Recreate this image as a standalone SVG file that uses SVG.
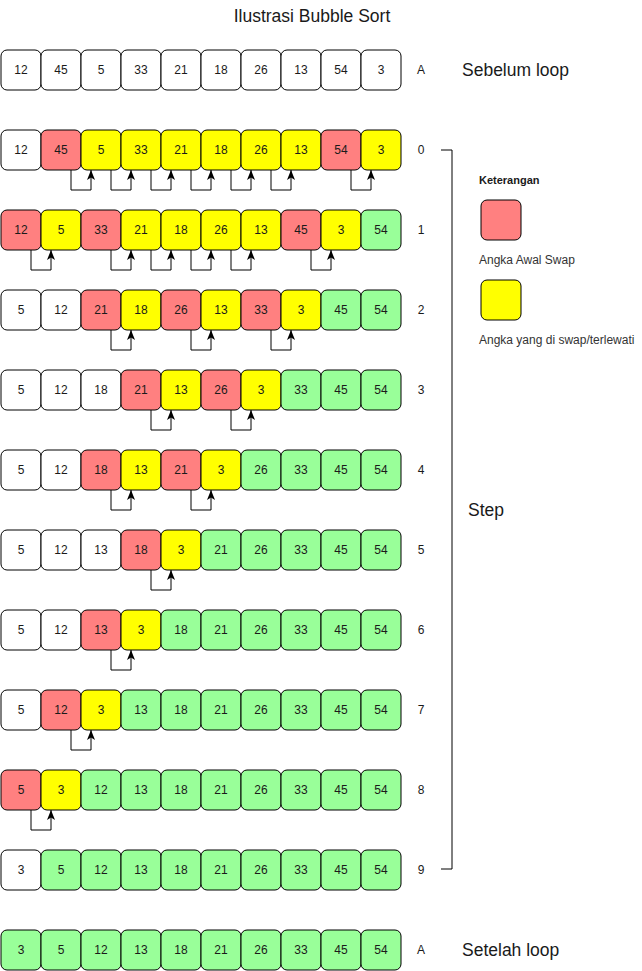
<svg xmlns="http://www.w3.org/2000/svg" width="642" height="971" viewBox="0 0 642 971">
<style>
text{font-family:"Liberation Sans",Arial,sans-serif;fill:#1a1a1a}
.b rect{stroke:#000;stroke-width:1}
.b text{font-size:12px;text-anchor:middle}
.w{fill:#fff}.r{fill:#ff8080}.y{fill:#ffff00}.g{fill:#99ff99}
.lbl{font-size:12px;text-anchor:middle}
.big{font-size:17.5px}
.lg{font-size:12px;fill:#333}
.ar{fill:none;stroke:#000;stroke-width:1;marker-end:url(#ah)}
</style>
<defs>
<marker id="ah" viewBox="0 0 10 8" refX="10" refY="4" markerWidth="10" markerHeight="8" markerUnits="userSpaceOnUse" orient="auto">
<path d="M0,0 L10,4 L0,8 L2.5,4 z" fill="#000"/>
</marker>
</defs>
<rect width="642" height="971" fill="#fff"/>
<text x="312" y="22" class="big" text-anchor="middle">Ilustrasi Bubble Sort</text>

<g id="rowA" class="b">
<g id="a0"><rect x="1" y="50" width="40" height="40" rx="6" class="w"/><text x="21" y="74">12</text></g>
<g id="a1"><rect x="41" y="50" width="40" height="40" rx="6" class="w"/><text x="61" y="74">45</text></g>
<g id="a2"><rect x="81" y="50" width="40" height="40" rx="6" class="w"/><text x="101" y="74">5</text></g>
<g id="a3"><rect x="121" y="50" width="40" height="40" rx="6" class="w"/><text x="141" y="74">33</text></g>
<g id="a4"><rect x="161" y="50" width="40" height="40" rx="6" class="w"/><text x="181" y="74">21</text></g>
<g id="a5"><rect x="201" y="50" width="40" height="40" rx="6" class="w"/><text x="221" y="74">18</text></g>
<g id="a6"><rect x="241" y="50" width="40" height="40" rx="6" class="w"/><text x="261" y="74">26</text></g>
<g id="a7"><rect x="281" y="50" width="40" height="40" rx="6" class="w"/><text x="301" y="74">13</text></g>
<g id="a8"><rect x="321" y="50" width="40" height="40" rx="6" class="w"/><text x="341" y="74">54</text></g>
<g id="a9"><rect x="361" y="50" width="40" height="40" rx="6" class="w"/><text x="381" y="74">3</text></g>
</g>

<g id="row0" class="b">
<g id="s0_0"><rect x="1" y="130" width="40" height="40" rx="6" class="w"/><text x="21" y="154">12</text></g>
<g id="s0_1"><rect x="41" y="130" width="40" height="40" rx="6" class="r"/><text x="61" y="154">45</text></g>
<g id="s0_2"><rect x="81" y="130" width="40" height="40" rx="6" class="y"/><text x="101" y="154">5</text></g>
<g id="s0_3"><rect x="121" y="130" width="40" height="40" rx="6" class="y"/><text x="141" y="154">33</text></g>
<g id="s0_4"><rect x="161" y="130" width="40" height="40" rx="6" class="y"/><text x="181" y="154">21</text></g>
<g id="s0_5"><rect x="201" y="130" width="40" height="40" rx="6" class="y"/><text x="221" y="154">18</text></g>
<g id="s0_6"><rect x="241" y="130" width="40" height="40" rx="6" class="y"/><text x="261" y="154">26</text></g>
<g id="s0_7"><rect x="281" y="130" width="40" height="40" rx="6" class="y"/><text x="301" y="154">13</text></g>
<g id="s0_8"><rect x="321" y="130" width="40" height="40" rx="6" class="r"/><text x="341" y="154">54</text></g>
<g id="s0_9"><rect x="361" y="130" width="40" height="40" rx="6" class="y"/><text x="381" y="154">3</text></g>
</g>

<g id="row1" class="b">
<g id="s1_0"><rect x="1" y="210" width="40" height="40" rx="6" class="r"/><text x="21" y="234">12</text></g>
<g id="s1_1"><rect x="41" y="210" width="40" height="40" rx="6" class="y"/><text x="61" y="234">5</text></g>
<g id="s1_2"><rect x="81" y="210" width="40" height="40" rx="6" class="r"/><text x="101" y="234">33</text></g>
<g id="s1_3"><rect x="121" y="210" width="40" height="40" rx="6" class="y"/><text x="141" y="234">21</text></g>
<g id="s1_4"><rect x="161" y="210" width="40" height="40" rx="6" class="y"/><text x="181" y="234">18</text></g>
<g id="s1_5"><rect x="201" y="210" width="40" height="40" rx="6" class="y"/><text x="221" y="234">26</text></g>
<g id="s1_6"><rect x="241" y="210" width="40" height="40" rx="6" class="y"/><text x="261" y="234">13</text></g>
<g id="s1_7"><rect x="281" y="210" width="40" height="40" rx="6" class="r"/><text x="301" y="234">45</text></g>
<g id="s1_8"><rect x="321" y="210" width="40" height="40" rx="6" class="y"/><text x="341" y="234">3</text></g>
<g id="s1_9"><rect x="361" y="210" width="40" height="40" rx="6" class="g"/><text x="381" y="234">54</text></g>
</g>

<g id="row2" class="b">
<g id="s2_0"><rect x="1" y="290" width="40" height="40" rx="6" class="w"/><text x="21" y="314">5</text></g>
<g id="s2_1"><rect x="41" y="290" width="40" height="40" rx="6" class="w"/><text x="61" y="314">12</text></g>
<g id="s2_2"><rect x="81" y="290" width="40" height="40" rx="6" class="r"/><text x="101" y="314">21</text></g>
<g id="s2_3"><rect x="121" y="290" width="40" height="40" rx="6" class="y"/><text x="141" y="314">18</text></g>
<g id="s2_4"><rect x="161" y="290" width="40" height="40" rx="6" class="r"/><text x="181" y="314">26</text></g>
<g id="s2_5"><rect x="201" y="290" width="40" height="40" rx="6" class="y"/><text x="221" y="314">13</text></g>
<g id="s2_6"><rect x="241" y="290" width="40" height="40" rx="6" class="r"/><text x="261" y="314">33</text></g>
<g id="s2_7"><rect x="281" y="290" width="40" height="40" rx="6" class="y"/><text x="301" y="314">3</text></g>
<g id="s2_8"><rect x="321" y="290" width="40" height="40" rx="6" class="g"/><text x="341" y="314">45</text></g>
<g id="s2_9"><rect x="361" y="290" width="40" height="40" rx="6" class="g"/><text x="381" y="314">54</text></g>
</g>

<g id="row3" class="b">
<g id="s3_0"><rect x="1" y="370" width="40" height="40" rx="6" class="w"/><text x="21" y="394">5</text></g>
<g id="s3_1"><rect x="41" y="370" width="40" height="40" rx="6" class="w"/><text x="61" y="394">12</text></g>
<g id="s3_2"><rect x="81" y="370" width="40" height="40" rx="6" class="w"/><text x="101" y="394">18</text></g>
<g id="s3_3"><rect x="121" y="370" width="40" height="40" rx="6" class="r"/><text x="141" y="394">21</text></g>
<g id="s3_4"><rect x="161" y="370" width="40" height="40" rx="6" class="y"/><text x="181" y="394">13</text></g>
<g id="s3_5"><rect x="201" y="370" width="40" height="40" rx="6" class="r"/><text x="221" y="394">26</text></g>
<g id="s3_6"><rect x="241" y="370" width="40" height="40" rx="6" class="y"/><text x="261" y="394">3</text></g>
<g id="s3_7"><rect x="281" y="370" width="40" height="40" rx="6" class="g"/><text x="301" y="394">33</text></g>
<g id="s3_8"><rect x="321" y="370" width="40" height="40" rx="6" class="g"/><text x="341" y="394">45</text></g>
<g id="s3_9"><rect x="361" y="370" width="40" height="40" rx="6" class="g"/><text x="381" y="394">54</text></g>
</g>

<g id="row4" class="b">
<g id="s4_0"><rect x="1" y="450" width="40" height="40" rx="6" class="w"/><text x="21" y="474">5</text></g>
<g id="s4_1"><rect x="41" y="450" width="40" height="40" rx="6" class="w"/><text x="61" y="474">12</text></g>
<g id="s4_2"><rect x="81" y="450" width="40" height="40" rx="6" class="r"/><text x="101" y="474">18</text></g>
<g id="s4_3"><rect x="121" y="450" width="40" height="40" rx="6" class="y"/><text x="141" y="474">13</text></g>
<g id="s4_4"><rect x="161" y="450" width="40" height="40" rx="6" class="r"/><text x="181" y="474">21</text></g>
<g id="s4_5"><rect x="201" y="450" width="40" height="40" rx="6" class="y"/><text x="221" y="474">3</text></g>
<g id="s4_6"><rect x="241" y="450" width="40" height="40" rx="6" class="g"/><text x="261" y="474">26</text></g>
<g id="s4_7"><rect x="281" y="450" width="40" height="40" rx="6" class="g"/><text x="301" y="474">33</text></g>
<g id="s4_8"><rect x="321" y="450" width="40" height="40" rx="6" class="g"/><text x="341" y="474">45</text></g>
<g id="s4_9"><rect x="361" y="450" width="40" height="40" rx="6" class="g"/><text x="381" y="474">54</text></g>
</g>

<g id="row5" class="b">
<g id="s5_0"><rect x="1" y="530" width="40" height="40" rx="6" class="w"/><text x="21" y="554">5</text></g>
<g id="s5_1"><rect x="41" y="530" width="40" height="40" rx="6" class="w"/><text x="61" y="554">12</text></g>
<g id="s5_2"><rect x="81" y="530" width="40" height="40" rx="6" class="w"/><text x="101" y="554">13</text></g>
<g id="s5_3"><rect x="121" y="530" width="40" height="40" rx="6" class="r"/><text x="141" y="554">18</text></g>
<g id="s5_4"><rect x="161" y="530" width="40" height="40" rx="6" class="y"/><text x="181" y="554">3</text></g>
<g id="s5_5"><rect x="201" y="530" width="40" height="40" rx="6" class="g"/><text x="221" y="554">21</text></g>
<g id="s5_6"><rect x="241" y="530" width="40" height="40" rx="6" class="g"/><text x="261" y="554">26</text></g>
<g id="s5_7"><rect x="281" y="530" width="40" height="40" rx="6" class="g"/><text x="301" y="554">33</text></g>
<g id="s5_8"><rect x="321" y="530" width="40" height="40" rx="6" class="g"/><text x="341" y="554">45</text></g>
<g id="s5_9"><rect x="361" y="530" width="40" height="40" rx="6" class="g"/><text x="381" y="554">54</text></g>
</g>

<g id="row6" class="b">
<g id="s6_0"><rect x="1" y="610" width="40" height="40" rx="6" class="w"/><text x="21" y="634">5</text></g>
<g id="s6_1"><rect x="41" y="610" width="40" height="40" rx="6" class="w"/><text x="61" y="634">12</text></g>
<g id="s6_2"><rect x="81" y="610" width="40" height="40" rx="6" class="r"/><text x="101" y="634">13</text></g>
<g id="s6_3"><rect x="121" y="610" width="40" height="40" rx="6" class="y"/><text x="141" y="634">3</text></g>
<g id="s6_4"><rect x="161" y="610" width="40" height="40" rx="6" class="g"/><text x="181" y="634">18</text></g>
<g id="s6_5"><rect x="201" y="610" width="40" height="40" rx="6" class="g"/><text x="221" y="634">21</text></g>
<g id="s6_6"><rect x="241" y="610" width="40" height="40" rx="6" class="g"/><text x="261" y="634">26</text></g>
<g id="s6_7"><rect x="281" y="610" width="40" height="40" rx="6" class="g"/><text x="301" y="634">33</text></g>
<g id="s6_8"><rect x="321" y="610" width="40" height="40" rx="6" class="g"/><text x="341" y="634">45</text></g>
<g id="s6_9"><rect x="361" y="610" width="40" height="40" rx="6" class="g"/><text x="381" y="634">54</text></g>
</g>

<g id="row7" class="b">
<g id="s7_0"><rect x="1" y="690" width="40" height="40" rx="6" class="w"/><text x="21" y="714">5</text></g>
<g id="s7_1"><rect x="41" y="690" width="40" height="40" rx="6" class="r"/><text x="61" y="714">12</text></g>
<g id="s7_2"><rect x="81" y="690" width="40" height="40" rx="6" class="y"/><text x="101" y="714">3</text></g>
<g id="s7_3"><rect x="121" y="690" width="40" height="40" rx="6" class="g"/><text x="141" y="714">13</text></g>
<g id="s7_4"><rect x="161" y="690" width="40" height="40" rx="6" class="g"/><text x="181" y="714">18</text></g>
<g id="s7_5"><rect x="201" y="690" width="40" height="40" rx="6" class="g"/><text x="221" y="714">21</text></g>
<g id="s7_6"><rect x="241" y="690" width="40" height="40" rx="6" class="g"/><text x="261" y="714">26</text></g>
<g id="s7_7"><rect x="281" y="690" width="40" height="40" rx="6" class="g"/><text x="301" y="714">33</text></g>
<g id="s7_8"><rect x="321" y="690" width="40" height="40" rx="6" class="g"/><text x="341" y="714">45</text></g>
<g id="s7_9"><rect x="361" y="690" width="40" height="40" rx="6" class="g"/><text x="381" y="714">54</text></g>
</g>

<g id="row8" class="b">
<g id="s8_0"><rect x="1" y="770" width="40" height="40" rx="6" class="r"/><text x="21" y="794">5</text></g>
<g id="s8_1"><rect x="41" y="770" width="40" height="40" rx="6" class="y"/><text x="61" y="794">3</text></g>
<g id="s8_2"><rect x="81" y="770" width="40" height="40" rx="6" class="g"/><text x="101" y="794">12</text></g>
<g id="s8_3"><rect x="121" y="770" width="40" height="40" rx="6" class="g"/><text x="141" y="794">13</text></g>
<g id="s8_4"><rect x="161" y="770" width="40" height="40" rx="6" class="g"/><text x="181" y="794">18</text></g>
<g id="s8_5"><rect x="201" y="770" width="40" height="40" rx="6" class="g"/><text x="221" y="794">21</text></g>
<g id="s8_6"><rect x="241" y="770" width="40" height="40" rx="6" class="g"/><text x="261" y="794">26</text></g>
<g id="s8_7"><rect x="281" y="770" width="40" height="40" rx="6" class="g"/><text x="301" y="794">33</text></g>
<g id="s8_8"><rect x="321" y="770" width="40" height="40" rx="6" class="g"/><text x="341" y="794">45</text></g>
<g id="s8_9"><rect x="361" y="770" width="40" height="40" rx="6" class="g"/><text x="381" y="794">54</text></g>
</g>

<g id="row9" class="b">
<g id="s9_0"><rect x="1" y="850" width="40" height="40" rx="6" class="w"/><text x="21" y="874">3</text></g>
<g id="s9_1"><rect x="41" y="850" width="40" height="40" rx="6" class="g"/><text x="61" y="874">5</text></g>
<g id="s9_2"><rect x="81" y="850" width="40" height="40" rx="6" class="g"/><text x="101" y="874">12</text></g>
<g id="s9_3"><rect x="121" y="850" width="40" height="40" rx="6" class="g"/><text x="141" y="874">13</text></g>
<g id="s9_4"><rect x="161" y="850" width="40" height="40" rx="6" class="g"/><text x="181" y="874">18</text></g>
<g id="s9_5"><rect x="201" y="850" width="40" height="40" rx="6" class="g"/><text x="221" y="874">21</text></g>
<g id="s9_6"><rect x="241" y="850" width="40" height="40" rx="6" class="g"/><text x="261" y="874">26</text></g>
<g id="s9_7"><rect x="281" y="850" width="40" height="40" rx="6" class="g"/><text x="301" y="874">33</text></g>
<g id="s9_8"><rect x="321" y="850" width="40" height="40" rx="6" class="g"/><text x="341" y="874">45</text></g>
<g id="s9_9"><rect x="361" y="850" width="40" height="40" rx="6" class="g"/><text x="381" y="874">54</text></g>
</g>

<g id="rowF" class="b">
<g id="f0"><rect x="1" y="930" width="40" height="40" rx="6" class="g"/><text x="21" y="954">3</text></g>
<g id="f1"><rect x="41" y="930" width="40" height="40" rx="6" class="g"/><text x="61" y="954">5</text></g>
<g id="f2"><rect x="81" y="930" width="40" height="40" rx="6" class="g"/><text x="101" y="954">12</text></g>
<g id="f3"><rect x="121" y="930" width="40" height="40" rx="6" class="g"/><text x="141" y="954">13</text></g>
<g id="f4"><rect x="161" y="930" width="40" height="40" rx="6" class="g"/><text x="181" y="954">18</text></g>
<g id="f5"><rect x="201" y="930" width="40" height="40" rx="6" class="g"/><text x="221" y="954">21</text></g>
<g id="f6"><rect x="241" y="930" width="40" height="40" rx="6" class="g"/><text x="261" y="954">26</text></g>
<g id="f7"><rect x="281" y="930" width="40" height="40" rx="6" class="g"/><text x="301" y="954">33</text></g>
<g id="f8"><rect x="321" y="930" width="40" height="40" rx="6" class="g"/><text x="341" y="954">45</text></g>
<g id="f9"><rect x="361" y="930" width="40" height="40" rx="6" class="g"/><text x="381" y="954">54</text></g>
</g>

<g id="connectors">
<path class="ar" d="M71,170 V190 H91 V170"/>
<path class="ar" d="M111,170 V190 H131 V170"/>
<path class="ar" d="M151,170 V190 H171 V170"/>
<path class="ar" d="M191,170 V190 H211 V170"/>
<path class="ar" d="M231,170 V190 H251 V170"/>
<path class="ar" d="M271,170 V190 H291 V170"/>
<path class="ar" d="M351,170 V190 H371 V170"/>

<path class="ar" d="M31,250 V270 H51 V250"/>
<path class="ar" d="M111,250 V270 H131 V250"/>
<path class="ar" d="M151,250 V270 H171 V250"/>
<path class="ar" d="M191,250 V270 H211 V250"/>
<path class="ar" d="M231,250 V270 H251 V250"/>
<path class="ar" d="M311,250 V270 H331 V250"/>

<path class="ar" d="M111,330 V350 H131 V330"/>
<path class="ar" d="M191,330 V350 H211 V330"/>
<path class="ar" d="M271,330 V350 H291 V330"/>

<path class="ar" d="M151,410 V430 H171 V410"/>
<path class="ar" d="M231,410 V430 H251 V410"/>

<path class="ar" d="M111,490 V510 H131 V490"/>
<path class="ar" d="M191,490 V510 H211 V490"/>

<path class="ar" d="M151,570 V590 H171 V570"/>

<path class="ar" d="M111,650 V670 H131 V650"/>

<path class="ar" d="M71,730 V750 H91 V730"/>

<path class="ar" d="M31,810 V830 H51 V810"/>

<path id="bracket" d="M441,150 H452 V869 H441" fill="none" stroke="#000" stroke-width="1"/>
</g>

<g id="labels">
<text x="421" y="74" class="lbl">A</text>
<text x="421" y="154" class="lbl">0</text>
<text x="421" y="234" class="lbl">1</text>
<text x="421" y="314" class="lbl">2</text>
<text x="421" y="394" class="lbl">3</text>
<text x="421" y="474" class="lbl">4</text>
<text x="421" y="554" class="lbl">5</text>
<text x="421" y="634" class="lbl">6</text>
<text x="421" y="714" class="lbl">7</text>
<text x="421" y="794" class="lbl">8</text>
<text x="421" y="874" class="lbl">9</text>
<text x="421" y="954" class="lbl">A</text>
<text x="462" y="76" class="big">Sebelum loop</text>
<text x="462" y="956" class="big">Setelah loop</text>
<text x="468" y="516" class="big">Step</text>
</g>

<g id="legend">
<text x="479" y="184" font-size="11" font-weight="bold">Keterangan</text>
<g id="legend-red"><rect x="481" y="200" width="40" height="40" rx="6" class="r" stroke="#000"/></g>
<text x="479" y="264" class="lg">Angka Awal Swap</text>
<g id="legend-yellow"><rect x="481" y="280" width="40" height="40" rx="6" class="y" stroke="#000"/></g>
<text x="479" y="344" class="lg">Angka yang di swap/terlewati</text>
</g>
</svg>
